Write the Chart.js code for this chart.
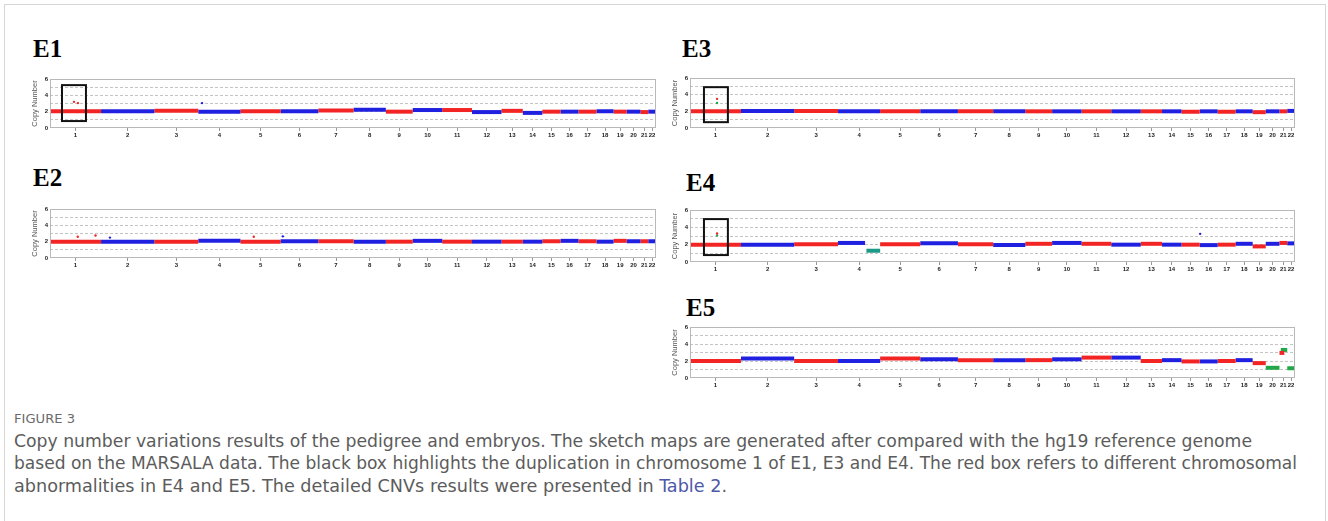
<!DOCTYPE html>
<html>
<head>
<meta charset="utf-8">
<script src="https://cdn.jsdelivr.net/npm/chart.js@4.4.1/dist/chart.umd.min.js"></script>
<style>
body{margin:0;width:1328px;height:521px;background:#fff;position:relative;overflow:hidden;font-family:"Liberation Sans",Arial,sans-serif}
#frame{position:absolute;left:4px;top:4px;width:1320px;height:530px;border:1px solid #d6d6d6}
.lbl{position:absolute;font-family:"Liberation Serif","Times New Roman",serif;font-weight:bold;font-size:25px;line-height:25px;color:#000}
canvas{position:absolute}
.cap{position:absolute;left:14px;white-space:nowrap;font-family:"Liberation Sans Narrow","DejaVu Sans Condensed",sans-serif;color:#5c5c5c;transform-origin:0 0}
#fig{top:411px;font-size:13px;color:#6a6a6a}
.cl{font-size:17px;line-height:20px}
.cl a{color:#4d58a8;text-decoration:none}
</style>
</head>
<body>
<div id="frame"></div>
<div class="lbl" style="left:33px;top:36px">E1</div>
<div class="lbl" style="left:682px;top:36px">E3</div>
<div class="lbl" style="left:33px;top:165px">E2</div>
<div class="lbl" style="left:686px;top:170px">E4</div>
<div class="lbl" style="left:686px;top:295px">E5</div>
<canvas id="e1"></canvas>
<canvas id="e2"></canvas>
<canvas id="e3"></canvas>
<canvas id="e4"></canvas>
<canvas id="e5"></canvas>
<div class="cap" id="fig">FIGURE 3</div>
<div class="cap cl" id="l1" style="top:431px">Copy number variations results of the pedigree and embryos. The sketch maps are generated after compared with the hg19 reference genome</div>
<div class="cap cl" id="l2" style="top:453px">based on the MARSALA data. The black box highlights the duplication in chromosome 1 of E1, E3 and E4. The red box refers to different chromosomal</div>
<div class="cap cl" id="l3" style="top:476px">abnormalities in E4 and E5. The detailed CNVs results were presented in <a>Table 2</a>.</div>
<script>
// chromosome names and plotted (mappable) span in Mb
const chrNames = ['1','2','3','4','5','6','7','8','9','10','11','12','13','14','15','16','17','18','19','20','21','22'];
const chrSpan = [230,240,198,190,181,170,159,145,121,133,134,133,96,88,82,81,81,77,59,62,35,35];
const cnTicks = [0,1,2,3,4,5,6];

// copy number level per chromosome (null = whole chromosome drawn as abnormal segment)
const e1Level = [2.05,2.05,2.1,2.0,2.05,2.05,2.15,2.25,2.0,2.2,2.2,1.95,2.1,1.85,2.0,2.0,2.0,2.05,2.0,2.0,1.95,2.0];
const e2Level = [2.0,2.0,2.0,2.1,2.0,2.05,2.05,2.0,2.0,2.1,2.0,2.0,2.0,2.0,2.05,2.1,2.05,2.0,2.1,2.05,2.05,2.05];
const e3Level = [2.0,2.05,2.05,2.0,2.0,2.0,2.0,2.0,2.0,2.0,2.0,2.0,2.0,2.0,1.95,2.0,1.95,2.0,1.9,2.0,2.0,2.05];
const e4Level = [2.0,2.0,2.05,2.2,2.05,2.15,2.05,1.95,2.1,2.2,2.1,2.0,2.1,2.0,2.0,1.95,2.0,2.1,1.8,2.1,2.2,2.15];
const e5Level = [2.0,2.3,2.0,2.0,2.3,2.2,2.1,2.1,2.1,2.2,2.4,2.4,2.0,2.1,1.95,1.95,2.0,2.1,1.75,null,null,null];

// abnormal segments: chromosome, from, to (Mb within chromosome), copy number, colour
const e4Abnormal = [{chr:4, from:128, to:190, cn:1.3, col:'teal'}];
const e5Abnormal = [
  {chr:20, from:0, to:62, cn:1.2, col:'green'},
  {chr:21, from:0, to:22, cn:2.95, col:'red'},
  {chr:21, from:6, to:35, cn:3.3, col:'green'},
  {chr:22, from:0, to:35, cn:1.15, col:'green'}
];
// end of the normal band where it is cut short
const e4Cut = {4:122};

// single outlying bins
const e1Outliers = [{chr:1,pos:108,cn:3.2},{chr:1,pos:126,cn:3.05},{chr:4,pos:17,cn:3.05}];
const e2Outliers = [{chr:1,pos:125,cn:2.6},{chr:1,pos:205,cn:2.75},{chr:2,pos:40,cn:2.5},{chr:5,pos:60,cn:2.6},{chr:6,pos:10,cn:2.65}];
const e3Outliers = [{chr:1,pos:122,cn:3.5,col:'red'},{chr:1,pos:122,cn:3.0,col:'green'}];
const e4Outliers = [{chr:1,pos:122,cn:3.3,col:'red'},{chr:1,pos:122,cn:3.05,col:'green'},{chr:16,pos:2,cn:3.25}];
const e5Outliers = [];

// highlight boxes: chromosome 1 range and copy number range
const e1Box = [54,162,0.85,5.25];
const e3Box = [63,171,0.7,4.9];
const e4Box = [63,171,0.8,4.95];

const colours = {red:'#f22424', blue:'#2020e0', green:'#22a84a', teal:'#1c9a86'};
const chrStart = [];
chrSpan.reduce((acc, s, i) => { chrStart[i] = acc; return acc + s; }, 0);
const genomeTotal = chrSpan.reduce((a, b) => a + b, 0);
const chrMid = chrSpan.map((s, i) => chrStart[i] + s / 2);

const boxPlugin = {
  id: 'boxPlugin',
  afterDatasetsDraw(chart, args, opts) {
    const {ctx, chartArea: a, scales: {x, y}} = chart;
    ctx.save();
    ctx.strokeStyle = '#b8b8b8';
    ctx.lineWidth = 1;
    ctx.strokeRect(a.left + 0.5, a.top + 0.5, a.width - 1, a.height - 1);
    if (opts.box) {
      const b = opts.box;
      ctx.strokeStyle = '#111';
      ctx.lineWidth = 2;
      const x0 = x.getPixelForValue(b[0]), x1 = x.getPixelForValue(b[1]);
      const y0 = y.getPixelForValue(b[3]), y1 = y.getPixelForValue(b[2]);
      ctx.strokeRect(x0, y0, x1 - x0, y1 - y0);
    }
    ctx.restore();
  }
};

function makePanel(id, rect, level, abnormal, cut, outliers, box) {
  const padL = 20, padT = 6, padR = 4, padB = 12;
  const cv = document.getElementById(id);
  cv.style.left = (rect[0] - padL) + 'px';
  cv.style.top = (rect[1] - padT) + 'px';
  cv.width = rect[2] - rect[0] + padL + padR;
  cv.height = rect[3] - rect[1] + padT + padB;

  const datasets = [];
  level.forEach((lev, i) => {
    if (lev === null) return;
    const end = cut[i + 1] !== undefined ? cut[i + 1] : chrSpan[i];
    datasets.push({
      data: [{x: chrStart[i], y: lev}, {x: chrStart[i] + end, y: lev}],
      borderColor: i % 2 === 0 ? colours.red : colours.blue,
      borderWidth: 4, borderCapStyle: 'butt', showLine: true, pointRadius: 0
    });
  });
  abnormal.forEach(s => {
    datasets.push({
      data: [{x: chrStart[s.chr - 1] + s.from, y: s.cn}, {x: chrStart[s.chr - 1] + s.to, y: s.cn}],
      borderColor: colours[s.col], borderWidth: 4, borderCapStyle: 'butt', showLine: true, pointRadius: 0
    });
  });
  outliers.forEach(o => {
    const c = o.col ? colours[o.col] : (o.chr % 2 === 1 ? colours.red : colours.blue);
    datasets.push({
      data: [{x: chrStart[o.chr - 1] + o.pos, y: o.cn}],
      backgroundColor: c, borderColor: c, pointRadius: 1.2, pointBorderWidth: 0, showLine: false
    });
  });

  new Chart(cv, {
    type: 'scatter',
    data: {datasets: datasets},
    options: {
      responsive: false,
      animation: false,
      layout: {padding: {top: padT, right: padR, left: 0, bottom: 0}},
      plugins: {legend: {display: false}, tooltip: {enabled: false}, boxPlugin: {box: box}},
      scales: {
        x: {
          type: 'linear', min: 0, max: genomeTotal,
          afterBuildTicks: s => { s.ticks = chrMid.map(v => ({value: v})); },
          afterFit: s => { s.height = padB; },
          ticks: {
            autoSkip: false, maxRotation: 0, padding: 1, color: '#222',
            font: {size: 6, weight: 'bold'},
            callback: (v, i) => chrNames[i]
          },
          grid: {drawOnChartArea: false, tickLength: 3, color: '#999'},
          border: {display: false}
        },
        y: {
          min: 0, max: 6,
          afterBuildTicks: s => { s.ticks = cnTicks.map(v => ({value: v})); },
          afterFit: s => { s.width = padL; },
          ticks: {
            autoSkip: false, padding: 2, color: '#222',
            font: {size: 6, weight: 'bold'},
            callback: v => (v % 2 === 0 ? v : '')
          },
          grid: {
            drawTicks: false,
            color: c => (c.tick.value > 0 && c.tick.value < 6 ? '#c4c4c4' : 'rgba(0,0,0,0)')
          },
          border: {display: false, dash: [3, 2]},
          title: {display: true, text: 'Copy Number', color: '#555', font: {size: 7.5}, padding: 0}
        }
      }
    },
    plugins: [boxPlugin]
  });
}

makePanel('e1', [50, 79, 656, 128], e1Level, [], {}, e1Outliers, e1Box);
makePanel('e2', [50, 209, 656, 258], e2Level, [], {}, e2Outliers, null);
makePanel('e3', [690, 78, 1295, 128], e3Level, [], {}, e3Outliers, e3Box);
makePanel('e4', [690, 210, 1295, 262], e4Level, e4Abnormal, e4Cut, e4Outliers, e4Box);
makePanel('e5', [690, 327, 1295, 378], e5Level, e5Abnormal, {}, e5Outliers, null);

// stretch caption lines to the widths in the figure
[['l1', 1238], ['l2', 1283], ['l3', 713], ['fig', 61]].forEach(([id, w]) => {
  const el = document.getElementById(id);
  const cur = el.getBoundingClientRect().width;
  el.style.transform = 'scaleX(' + (w / cur) + ')';
});
</script>
</body>
</html>
